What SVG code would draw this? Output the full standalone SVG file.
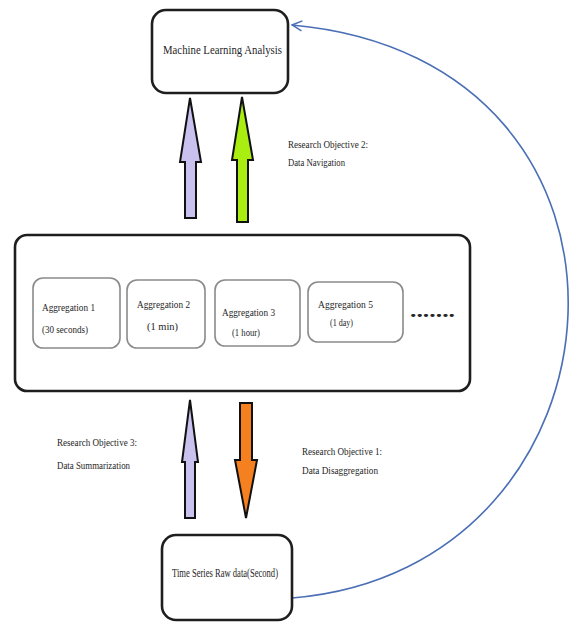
<svg xmlns="http://www.w3.org/2000/svg" width="572" height="624" viewBox="0 0 572 624">
<style>
.big{fill:#fff;stroke:#1e1e1e;stroke-width:2.6}
.sub{fill:#fff;stroke:#8a8a8a;stroke-width:1.6}
.t{font-family:"Liberation Serif","Times New Roman",serif;fill:#262626}
.s{font-size:10px}
.m{font-size:12.5px}
.arr{stroke:#111;stroke-width:2;stroke-linejoin:miter}
</style>
<defs>
<marker id="open" viewBox="0 0 12 12" refX="11" refY="6" markerWidth="12" markerHeight="12" markerUnits="userSpaceOnUse" orient="auto">
<path d="M1,1 L11,6 L1,11" fill="none" stroke="#4a6fb5" stroke-width="1.5"/>
</marker>
</defs>
<rect width="572" height="624" fill="#fff"/>
<g id="connectors">
<path d="M292,598 C640,570 680,60 292,25" fill="none" stroke="#4a6fb5" stroke-width="1.6" marker-end="url(#open)"/>
<polygon class="arr" fill="#c9c2ef" points="190,98 201,162 196,162 196,218 185,218 185,162 180,162"/>
<polygon class="arr" fill="#aaee11" points="242,97 253,160 248,160 248,222 237,222 237,160 232,160"/>
<polygon class="arr" fill="#c9c2ef" points="190,400 198,462 195,462 195,518 185,518 185,462 182,462"/>
<polygon class="arr" fill="#f5801f" points="240,403 252,403 252,460 257,460 246,518 235,460 240,460"/>
</g>
<g id="ml">
<rect class="big" x="152" y="10" width="136" height="83" rx="14"/>
<text class="t m" x="163" y="54" textLength="119" lengthAdjust="spacingAndGlyphs">Machine Learning Analysis</text>
</g>
<g id="raw">
<rect class="big" x="162" y="535" width="130" height="85" rx="14"/>
<text class="t" font-size="11.5" x="172" y="577" textLength="106" lengthAdjust="spacingAndGlyphs">Time Series Raw data(Second)</text>
</g>
<g id="agg">
<rect class="big" x="15" y="235" width="455" height="156" rx="12"/>
<text class="t" font-weight="bold" font-size="18" x="410" y="317" textLength="45" lengthAdjust="spacingAndGlyphs">.......</text>
</g>
<g id="agg1">
<rect class="sub" x="33" y="278" width="87" height="70" rx="10"/>
<text class="t s" x="42" y="311" textLength="53" lengthAdjust="spacingAndGlyphs">Aggregation 1</text>
<text class="t s" x="42" y="333" textLength="46" lengthAdjust="spacingAndGlyphs">(30 seconds)</text>
</g>
<g id="agg2">
<rect class="sub" x="127" y="280" width="78" height="68" rx="10"/>
<text class="t s" x="137" y="308" textLength="53" lengthAdjust="spacingAndGlyphs">Aggregation 2</text>
<text class="t s" x="147" y="330" textLength="31" lengthAdjust="spacingAndGlyphs">(1 min)</text>
</g>
<g id="agg3">
<rect class="sub" x="215" y="280" width="85" height="66" rx="10"/>
<text class="t s" x="222" y="316" textLength="53" lengthAdjust="spacingAndGlyphs">Aggregation 3</text>
<text class="t s" x="232" y="336" textLength="28" lengthAdjust="spacingAndGlyphs">(1 hour)</text>
</g>
<g id="agg4">
<rect class="sub" x="308" y="282" width="95" height="60" rx="10"/>
<text class="t s" x="318" y="308" textLength="55" lengthAdjust="spacingAndGlyphs">Aggregation 5</text>
<text class="t s" x="330" y="326" textLength="23" lengthAdjust="spacingAndGlyphs">(1 day)</text>
</g>
<g id="labels">
<text class="t s" x="288" y="148" textLength="80" lengthAdjust="spacingAndGlyphs">Research Objective 2:</text>
<text class="t s" x="288" y="166" textLength="57" lengthAdjust="spacingAndGlyphs">Data Navigation</text>
<text class="t s" x="57" y="446" textLength="80" lengthAdjust="spacingAndGlyphs">Research Objective 3:</text>
<text class="t s" x="57" y="469" textLength="73" lengthAdjust="spacingAndGlyphs">Data Summarization</text>
<text class="t s" x="302" y="455" textLength="80" lengthAdjust="spacingAndGlyphs">Research Objective 1:</text>
<text class="t s" x="302" y="474" textLength="76" lengthAdjust="spacingAndGlyphs">Data Disaggregation</text>
</g>
</svg>
